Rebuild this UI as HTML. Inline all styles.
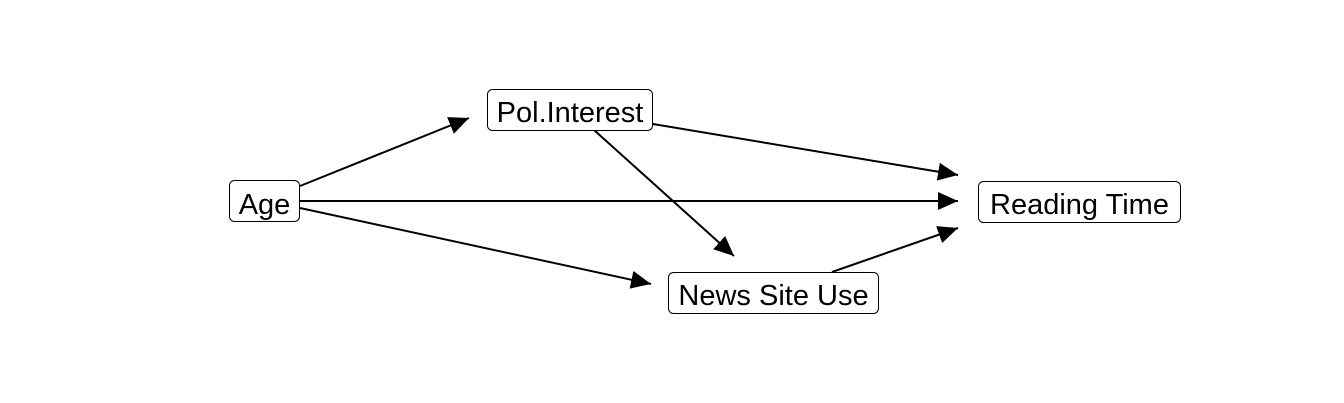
<!DOCTYPE html>
<html><head><style>
html,body{margin:0;padding:0;background:#fff;}
svg{display:block;}
text{font-family:"Liberation Sans",sans-serif;font-size:29px;fill:#000;}
</style></head><body>
<svg width="1344" height="403" viewBox="0 0 1344 403" xmlns="http://www.w3.org/2000/svg">
<defs>
<marker id="a" markerWidth="20" markerHeight="18" refX="20" refY="9" orient="auto" markerUnits="userSpaceOnUse">
<path d="M0,0 L20,9 L0,18 Z" fill="#000"/>
</marker>
</defs>
<g stroke="#000" stroke-width="2" fill="none">
<line x1="300" y1="186" x2="469" y2="118" marker-end="url(#a)"/>
<line x1="300" y1="201" x2="958" y2="201" marker-end="url(#a)"/>
<line x1="300" y1="208" x2="651" y2="284" marker-end="url(#a)"/>
<line x1="653" y1="124" x2="958" y2="175" marker-end="url(#a)"/>
<line x1="594" y1="130" x2="734" y2="256" marker-end="url(#a)"/>
<line x1="832" y1="272" x2="958" y2="228" marker-end="url(#a)"/>
</g>
<g fill="#fff" stroke="#000" stroke-width="1">
<rect x="229.5" y="180.5" width="70" height="41" rx="5"/>
<rect x="487.5" y="89.5" width="165" height="41" rx="5"/>
<rect x="668.5" y="272.5" width="210" height="41" rx="5"/>
<rect x="978.5" y="181.5" width="202" height="41" rx="5"/>
</g>
<text x="264.5" y="214" text-anchor="middle">Age</text>
<text x="570" y="122" text-anchor="middle">Pol.Interest</text>
<text x="773.5" y="305" text-anchor="middle">News Site Use</text>
<text x="1079.5" y="214" text-anchor="middle">Reading Time</text>
</svg>
</body></html>
